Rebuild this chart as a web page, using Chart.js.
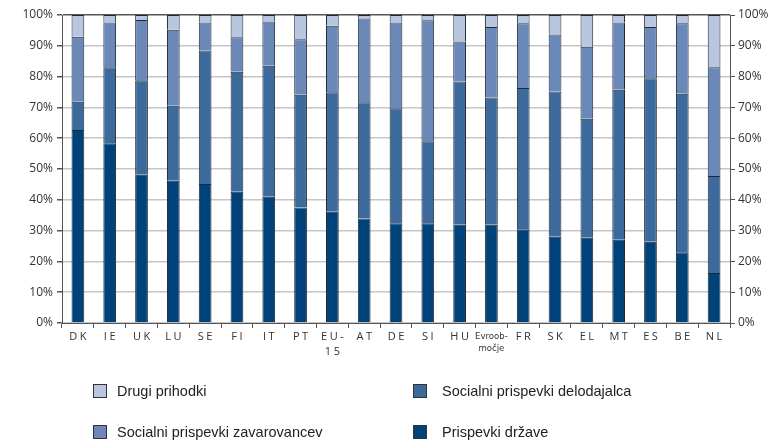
<!DOCTYPE html>
<html>
<head>
<meta charset="utf-8">
<title>Viri financiranja socialne zaščite</title>
<script src="https://cdn.jsdelivr.net/npm/chart.js"></script>
<style>
  html, body { margin: 0; padding: 0; background: #fff; }
  #wrap { position: relative; width: 774px; height: 442px; }
  #legend { position: absolute; left: 0; top: 0; width: 774px; height: 442px; pointer-events: none; }
  .box { position: absolute; width: 12px; height: 12px; border: 1px solid #333; }
  .txt { position: absolute; font-family: "Liberation Sans", Arial, sans-serif; font-size: 14.5px; line-height: 16px; color: #222; white-space: nowrap; }
</style>
</head>
<body>
<div id="wrap">
  <canvas id="chart" width="774" height="365"></canvas>
  <div id="legend"></div>
</div>
<script>
const categories = [
  "DK", "IE", "UK", "LU", "SE", "FI", "IT", "PT", ["EU-", "15"], "AT", "DE",
  "SI", "HU", ["Evroob-", "močje"], "FR", "SK", "EL", "MT", "ES", "BE", "NL",
];

// share of total receipts, % (segments, bottom to top)
const prispevkiDrzave = [62.7, 58.4, 48.1, 46.2, 45.1, 42.6, 41.0, 37.5, 36.1, 33.9, 32.4,
  32.4, 31.9, 31.9, 30.4, 28.0, 27.7, 27.0, 26.4, 23.0, 16.2];
const prispevkiDelodajalca = [9.1, 24.6, 30.7, 24.3, 43.4, 39.0, 42.5, 36.6, 38.8, 37.8, 37.3,
  26.6, 46.5, 41.3, 45.9, 47.2, 38.6, 48.7, 53.1, 51.4, 31.5];
const prispevkiZavarovancev = [21.1, 14.6, 19.6, 24.7, 9.1, 11.2, 14.4, 18.0, 21.6, 27.2, 27.9,
  39.3, 13.0, 22.9, 21.0, 18.5, 23.4, 21.9, 16.6, 22.9, 35.3];
const drugiPrihodki = [7.1, 2.4, 1.6, 4.8, 2.4, 7.2, 2.1, 7.9, 3.5, 1.1, 2.4,
  1.7, 8.6, 3.9, 2.7, 6.3, 10.3, 2.4, 3.9, 2.7, 17.0];

const yTicks = [0, 10, 20, 30, 40, 50, 60, 70, 80, 90, 100];

const AXIS = "#555";
const GRID = "#c6c6c6";

const tickFont = { family: "'Open Sans', 'DejaVu Sans', sans-serif", size: 12 };

// category labels: spaced capitals, the long one condensed and unspaced
const xLabels = {
  id: "xLabels",
  afterDraw(chart) {
    const ctx = chart.ctx;
    const x = chart.scales.x;
    const top = chart.chartArea.bottom + 9;
    ctx.save();
    ctx.fillStyle = "#333";
    ctx.textAlign = "center";
    ctx.textBaseline = "top";
    categories.forEach((lab, i) => {
      const lines = Array.isArray(lab) ? lab : [lab];
      const narrow = i === 13;
      const sp = narrow ? 0 : 2.5;
      ctx.font = narrow
        ? "9.5px 'Liberation Sans Narrow', 'DejaVu Sans Condensed', sans-serif"
        : "11px 'Open Sans', 'DejaVu Sans', sans-serif";
      ctx.letterSpacing = sp + "px";
      const cx = x.getPixelForValue(i) + sp / 2;
      lines.forEach((t, k) => ctx.fillText(t, cx, top + k * (narrow ? 12 : 15) + (narrow ? 0 : -1)));
    });
    ctx.letterSpacing = "0px";
    ctx.restore();
  },
};

const ds = (label, data, color) => ({
  label, data, backgroundColor: color,
  borderColor: "#1e2a38", borderWidth: 1,
  categoryPercentage: 1, barPercentage: 0.4,
});

const chart = new Chart(document.getElementById("chart"), {
  type: "bar",
  data: {
    labels: categories,
    datasets: [
      ds("Prispevki države", prispevkiDrzave, "#00427a"),
      ds("Socialni prispevki delodajalca", prispevkiDelodajalca, "#3d6a9c"),
      ds("Socialni prispevki zavarovancev", prispevkiZavarovancev, "#6a89b8"),
      ds("Drugi prihodki", drugiPrihodki, "#b9c6e0"),
    ],
  },
  options: {
    responsive: false,
    animation: false,
    layout: { padding: { top: 15, left: 0, right: 0, bottom: 0 } },
    plugins: { legend: { display: false }, tooltip: { enabled: false } },
    scales: {
      x: {
        stacked: true,
        afterFit(s) { s.height = 42; },
        border: { color: AXIS, width: 1 },
        grid: { display: true, drawOnChartArea: false, offset: true, tickLength: 5, color: AXIS },
        ticks: { display: false },
      },
      y: {
        stacked: true, min: 0, max: 100,
        afterFit(s) { s.width = 62; },
        afterBuildTicks(s) { s.ticks = yTicks.map((v) => ({ value: v })); },
        border: { color: AXIS, width: 1 },
        grid: {
          color: (c) => (c.tick && c.tick.value === 100 ? AXIS : GRID),
          lineWidth: 1.5, tickLength: 5, tickColor: AXIS,
        },
        ticks: { padding: 4, color: "#333", font: tickFont, callback: (v) => v + "%" },
      },
      y2: {
        position: "right", min: 0, max: 100,
        afterFit(s) { s.width = 44; },
        afterBuildTicks(s) { s.ticks = yTicks.map((v) => ({ value: v })); },
        border: { color: AXIS, width: 1 },
        grid: { drawOnChartArea: false, tickLength: 5, tickColor: AXIS },
        ticks: { padding: 3, color: "#333", font: tickFont, callback: (v) => v + "%" },
      },
    },
  },
  plugins: [xLabels],
});

// legend: 2 x 2 grid, built from the datasets
const legendOrder = [3, 1, 2, 0];
const legendPos = [[93, 117, 391], [413, 442, 391], [93, 117, 432], [413, 442, 432]];
const legend = document.getElementById("legend");
legendOrder.forEach((i, k) => {
  const d = chart.data.datasets[i];
  const [bx, tx, cy] = legendPos[k];
  const box = document.createElement("div");
  box.className = "box";
  box.style.left = bx + "px";
  box.style.top = (cy - 7) + "px";
  box.style.background = d.backgroundColor;
  const txt = document.createElement("div");
  txt.className = "txt";
  txt.style.left = tx + "px";
  txt.style.top = (cy - 8) + "px";
  txt.textContent = d.label;
  legend.appendChild(box);
  legend.appendChild(txt);
});
</script>
</body>
</html>
